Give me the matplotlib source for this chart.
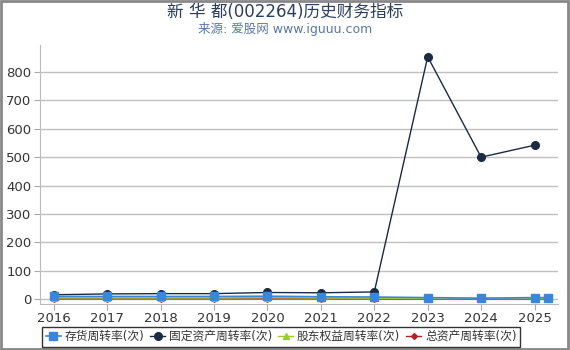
import matplotlib
matplotlib.use("Agg")
import matplotlib.pyplot as plt
import numpy as np
from matplotlib.patches import Rectangle

plt.rcParams['font.family'] = ['DejaVu Sans', 'Noto Sans CJK SC']

years = [2016, 2017, 2018, 2019, 2020, 2021, 2022, 2023, 2024, 2025, 2025.25]
xticks = [2016, 2017, 2018, 2019, 2020, 2021, 2022, 2023, 2024, 2025]
inventory = [10, 10, 10, 10, 11, 9, 8, 6, 4, 6, 6]
fixed_assets = [16, 19, 20, 20, 24, 23, 26, 853, 500, 542, np.nan]
equity = [5, 5, 5, 5, 6, 5, 4, 3, 3, 3, 3]
total_assets = [1.5, 1.5, 1.5, 1.5, 1.6, 1.4, 1.3, 1.0, 0.9, 1.0, 1.0]

fig = plt.figure(figsize=(5.7, 3.5), dpi=100)
ax = fig.add_axes([0.070, 0.131, 0.909, 0.740])

ax.plot(years, total_assets, color='#b22222', marker='D', markersize=3, linewidth=1, label='总资产周转率(次)', zorder=3)
ax.plot(years, equity, color='#9acd32', marker='^', markersize=4, linewidth=1, label='股东权益周转率(次)', zorder=3)
ax.plot(years, fixed_assets, color='#1b2b44', marker='o', markersize=5.5, linewidth=1, label='固定资产周转率(次)', zorder=4)
ax.plot(years, inventory, color='#3a86d8', marker='s', markersize=5.5, linewidth=1.2, label='存货周转率(次)', zorder=5)

ax.set_xlim(2015.74, 2025.44)
ax.set_ylim(-17, 894)
ax.set_xticks(xticks)
ax.set_xticklabels([str(x) for x in xticks])
ax.set_yticks(range(0, 900, 100))
ax.tick_params(axis='both', labelsize=9.5, length=4, width=0.8, pad=2)
ax.tick_params(axis='x', colors='#aaaaaa', labelcolor='#333333')
ax.tick_params(axis='y', colors='#aaaaaa', labelcolor='#333333')
ax.grid(axis='y', color='#c0c0c0', linewidth=1)
ax.set_axisbelow(True)
for s in ['top', 'right']:
    ax.spines[s].set_visible(False)
ax.spines['left'].set_color('#bbbbbb')
ax.spines['bottom'].set_color('#bbbbbb')

handles, labels = ax.get_legend_handles_labels()
order = [3, 2, 1, 0]
leg = fig.legend([handles[i] for i in order], [labels[i] for i in order],
                 loc='lower center', bbox_to_anchor=(0.493, 0.003), ncol=4, frameon=True,
                 fontsize=8.5, handlelength=1.3, handletextpad=0.3, columnspacing=0.5,
                 borderpad=0.3, borderaxespad=0.2, fancybox=False, edgecolor='black')
leg.get_frame().set_linewidth(1)
for t in leg.get_texts():
    t.set_color('#333333')

fig.text(0.5, 0.965, '新 华 都(002264)历史财务指标', ha='center', va='center', fontsize=12, color='#2c3e5c')
fig.text(0.5, 0.917, '来源: 爱股网 www.iguuu.com', ha='center', va='center', fontsize=9, color='#5a78a0')

fig.patches.append(Rectangle((0.001, 0.002), 0.996, 0.995, transform=fig.transFigure,
                             fill=False, edgecolor='#888888', linewidth=2))

fig.savefig('out.png', dpi=100)
